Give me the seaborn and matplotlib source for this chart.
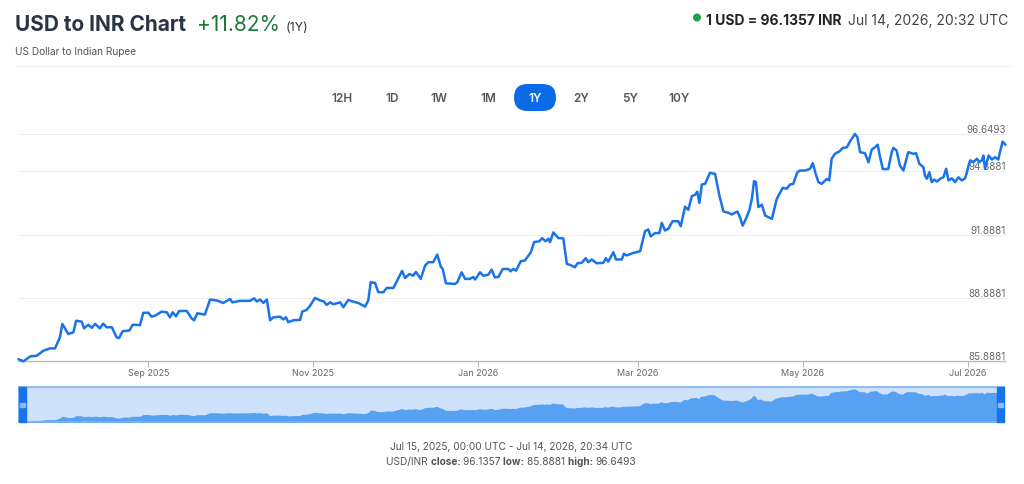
import numpy as np
import pandas as pd
import seaborn as sns
import matplotlib.pyplot as plt
import matplotlib.transforms as mtransforms
from matplotlib.patches import FancyBboxPatch, Rectangle, Circle

# USD/INR, 1Y window
start = pd.Timestamp('2025-07-15 00:00')
end = pd.Timestamp('2026-07-14 20:34')

# days since start
days = [0, 1.8, 4.3, 6.7, 9.2, 11.6, 13.5, 15.3, 16.2, 18.4, 20.3, 21.3, 23.4, 24.2,
        25.8, 27.1, 28.3, 30.1, 31.3, 32.6, 34.5, 36.3, 37.2, 38.5, 41.0, 42.2, 44.9,
        46.1, 48.0, 49.2, 50.5, 52.9, 54.8, 56.0, 57.0, 58.2, 59.4, 62.2, 64.0, 64.9,
        66.1, 68.9, 70.8, 73.3, 75.7, 78.2, 79.0, 81.9, 85.6, 87.1, 88.1, 89.3, 90.5,
        91.8, 93.0, 94.2, 96.7, 97.9, 98.9, 99.7, 101.6, 104.1, 104.9, 106.5, 107.8,
        109.6, 111.5, 112.9, 113.9, 115.2, 116.4, 118.9, 120.1, 121.9, 123.8, 125.6,
        128.1, 129.3, 130.2, 131.8, 133.0, 134.9, 136.1, 138.6, 140.4, 141.8, 142.9,
        144.5, 145.9, 146.9, 148.7, 150.3, 151.5, 153.3, 154.8, 156.1, 156.8, 158.0,
        161.4, 162.2, 163.8, 165.1, 166.9, 168.1, 168.8, 170.6, 171.8, 173.7, 174.9,
        176.1, 177.4, 179.0, 181.1, 181.9, 182.9, 183.9, 185.7, 187.2, 189.4, 190.6,
        192.5, 193.6, 194.8, 195.9, 196.5, 197.7, 199.6, 201.4, 202.7, 203.9, 205.7,
        206.6, 208.2, 209.7, 210.6, 211.9, 213.7, 216.2, 217.1, 218.0, 219.9, 220.9,
        223.0, 223.8, 224.8, 227.3, 229.8, 231.6, 232.8, 233.7, 235.3, 236.9, 237.8,
        239.0, 240.2, 241.8, 243.9, 244.8, 246.4, 247.6, 248.9, 250.1, 250.9, 251.7,
        252.6, 253.8, 255.6, 257.5, 259.1, 260.6, 262.4, 263.7, 265.7, 266.7, 267.7,
        269.0, 270.2, 271.1, 271.9, 272.6, 273.5, 274.8, 276.0, 278.5, 280.3, 282.5,
        284.0, 285.2, 286.4, 287.9, 288.9, 290.8, 292.6, 293.6, 294.7, 295.7, 296.9,
        298.8, 299.7, 300.6, 301.8, 303.4, 304.7, 306.2, 307.6, 309.2, 310.1, 311.1,
        312.9, 314.2, 315.4, 316.6, 317.6, 318.5, 319.5, 321.5, 322.8, 323.4, 324.6,
        325.8, 327.1, 328.1, 328.9, 330.8, 331.8, 333.0, 334.5, 335.1, 335.8, 336.7,
        337.6, 338.5, 339.5, 340.7, 341.9, 342.9, 343.8, 345.0, 346.2, 347.5, 348.7,
        349.9, 350.6, 351.2, 351.8, 353.0, 354.3, 355.2, 356.1, 356.7, 357.3, 358.6,
        359.8, 361.0, 362.2, 362.8, 363.8, 364.857]

rates = [85.99, 85.8881, 86.12, 86.15, 86.39, 86.50, 86.50, 87.02, 87.66, 87.18, 87.26,
         87.81, 87.76, 87.45, 87.62, 87.47, 87.66, 87.45, 87.67, 87.50, 87.50, 87.02,
         86.99, 87.31, 87.35, 87.62, 87.60, 88.18, 88.19, 88.00, 88.05, 88.24, 88.21,
         87.97, 88.21, 88.02, 88.27, 88.27, 87.92, 87.83, 88.16, 88.10, 88.81, 88.77,
         88.65, 88.84, 88.68, 88.75, 88.75, 88.87, 88.72, 88.81, 88.65, 88.81, 87.83,
         87.97, 88.00, 87.87, 87.97, 87.74, 87.83, 87.85, 88.24, 88.32, 88.52, 88.89,
         88.77, 88.72, 88.56, 88.68, 88.59, 88.68, 88.45, 88.79, 88.71, 88.65, 88.48,
         88.77, 89.63, 89.60, 89.16, 89.16, 89.36, 89.36, 89.82, 90.17, 89.83, 90.02,
         89.94, 90.12, 89.79, 90.42, 90.58, 90.58, 90.94, 90.37, 90.26, 89.58, 89.55,
         89.63, 90.10, 89.79, 89.79, 89.88, 89.76, 90.10, 89.94, 89.99, 90.23, 89.86,
         89.88, 90.26, 90.26, 90.15, 90.26, 90.18, 90.63, 90.66, 91.05, 91.53, 91.57,
         91.72, 91.57, 91.69, 91.53, 91.99, 91.72, 91.71, 90.50, 90.45, 90.34, 90.53,
         90.55, 90.77, 90.58, 90.71, 90.53, 90.55, 90.77, 90.61, 91.05, 90.71, 90.71,
         90.98, 90.90, 91.02, 91.10, 92.05, 92.13, 91.80, 91.96, 91.96, 92.44, 92.08,
         92.16, 92.52, 92.52, 92.28, 93.21, 93.06, 93.71, 93.77, 93.92, 93.39, 94.26,
         94.29, 94.81, 94.76, 93.73, 92.98, 92.92, 92.84, 92.98, 92.71, 92.31, 92.66,
         93.06, 93.58, 94.42, 94.37, 93.19, 93.30, 92.79, 92.63, 93.58, 94.10, 94.06,
         94.26, 94.29, 94.84, 94.92, 94.92, 95.00, 95.27, 94.76, 94.37, 94.29, 94.52,
         94.45, 95.48, 95.71, 95.82, 95.99, 96.02, 96.34, 96.6493, 96.50, 95.79, 95.74,
         95.31, 95.91, 96.02, 96.14, 95.55, 94.99, 94.99, 95.79, 95.99, 95.87, 95.16,
         94.92, 95.40, 95.79, 95.71, 95.74, 95.24, 95.08, 94.68, 94.53, 94.84, 94.37,
         94.49, 94.40, 94.53, 94.60, 95.00, 94.45, 94.55, 94.37, 94.60, 94.45, 94.55,
         94.84, 95.16, 95.40, 95.32, 95.48, 95.32, 95.40, 95.63, 95.00, 95.63, 95.44,
         95.55, 95.44, 95.79, 96.29, 96.1357]

ytick_vals = [85.8881, 88.8881, 91.8881, 94.8881, 96.6493]
xtick_dates = ['2025-09-01', '2025-11-01', '2026-01-01', '2026-03-01', '2026-05-01', '2026-07-01']
xtick_labels = ['Sep 2025', 'Nov 2025', 'Jan 2026', 'Mar 2026', 'May 2026', 'Jul 2026']
ranges = ['12H', '1D', '1W', '1M', '1Y', '2Y', '5Y', '10Y']
range_x = [342, 392, 439, 488, 535, 581, 630, 679]
active_range = '1Y'

df = pd.DataFrame({'date': start + pd.to_timedelta(days, unit='D'), 'rate': rates})

sns.set_theme(style='white')
plt.rcParams['font.family'] = ['Inter', 'DejaVu Sans']

W, H = 1024, 485
fig = plt.figure(figsize=(W / 100, H / 100), dpi=100)
px = mtransforms.IdentityTransform()

LINE = '#1a73e8'
GREY = '#666666'
DARK = '#2b3446'

# main chart
ax = fig.add_axes([18.5 / W, (H - 362.3) / H, 987 / W, (362.3 - 135) / H])
for v in ytick_vals[1:]:
    ax.axhline(v, color='#eeeeee', lw=0.8, zorder=0)
sns.lineplot(data=df, x='date', y='rate', ax=ax, color=LINE, linewidth=1.8,
             clip_on=False, zorder=3, solid_joinstyle='round', solid_capstyle='round')
ax.set_xlim(start, end)
ax.set_ylim(ytick_vals[0], ytick_vals[-1])
ax.set_xlabel('')
ax.set_ylabel('')
for s in ['top', 'right', 'left']:
    ax.spines[s].set_visible(False)
ax.spines['bottom'].set_color('#bbbbbb')
ax.spines['bottom'].set_linewidth(1)
ax.set_yticks([])
ax.set_xticks(pd.to_datetime(xtick_dates))
ax.set_xticklabels(xtick_labels, fontsize=6.5, color=GREY)
ax.tick_params(axis='x', length=4, width=0.8, color='#bbbbbb', pad=1, bottom=True)
for v in ytick_vals:
    ax.text(1.0, v, f'{v:.4f}', transform=ax.get_yaxis_transform(), ha='right',
            va='bottom', fontsize=7, color=GREY, zorder=1)

# navigator
nav = fig.add_axes([18.5 / W, (H - 423.3) / H, 985.5 / W, 35 / H])
nav.set_facecolor('#cfe2fb')
nav.fill_between(df['date'], df['rate'], 85.0, color='#57a0f2', lw=0)
nav.set_xlim(start, end)
nav.set_ylim(85.62, 97.2)
nav.set_xticks([])
nav.set_yticks([])
for s in nav.spines.values():
    s.set_color('#7db3f3')
    s.set_linewidth(1.2)
for hx in [0.0, 1.0 - 7.5 / 985.5]:
    nav.add_patch(Rectangle((hx, 0), 7.5 / 985.5, 1, transform=nav.transAxes,
                            color='#1673ec', zorder=5, clip_on=False))
    nav.add_patch(Rectangle((hx + 1.5 / 985.5, 0.44), 4.5 / 985.5, 0.12,
                            transform=nav.transAxes, color='#8cbaf5', zorder=6,
                            clip_on=False))

# header
fig.text(15, H - 31, 'USD to INR Chart', transform=px, fontsize=15,
         fontweight='bold', color=DARK)
fig.text(197, H - 31, '+11.82%', transform=px, fontsize=15, color='#1f7a3c')
fig.text(286, H - 31, '(1Y)', transform=px, fontsize=9, color='#333333')
fig.text(15, H - 55, 'US Dollar to Indian Rupee', transform=px, fontsize=7.3,
         color='#555555')
fig.add_artist(plt.Line2D([15, 1010], [H - 66.5, H - 66.5], transform=px,
                          color='#f0f0f0', lw=1))

fig.add_artist(Circle((697, H - 18.5), 3.3, transform=px, color='#16a34a'))
fig.text(1008, H - 25.5, 'Jul 14, 2026, 20:32 UTC', transform=px, ha='right',
         fontsize=10, color='#444444')
fig.text(841, H - 25.5, '1 USD = 96.1357 INR', transform=px, ha='right',
         fontsize=10, fontweight='bold', color='#222222')

# range buttons
fig.add_artist(FancyBboxPatch((514, H - 112), 42, 27, transform=px,
                              boxstyle='round,pad=0,rounding_size=13.5',
                              facecolor='#0b6be6', edgecolor='none'))
for lab, bx in zip(ranges, range_x):
    on = lab == active_range
    fig.text(bx, H - 99, lab, transform=px, ha='center', va='center',
             fontsize=8.5, fontweight='semibold',
             color='white' if on else '#555555')

# footer
fig.text(511, H - 447, 'Jul 15, 2025, 00:00 UTC - Jul 14, 2026, 20:34 UTC',
         transform=px, ha='center', va='center', fontsize=7.3, color='#555555')

parts = [('USD/INR ', 'normal'), ('close: ', 'bold'), ('96.1357 ', 'normal'),
         ('low: ', 'bold'), ('85.8881 ', 'normal'), ('high: ', 'bold'),
         ('96.6493', 'normal')]
renderer = fig.canvas.get_renderer()
texts = []
widths = []
for s, w in parts:
    t = fig.text(0, H - 462, s, transform=px, va='center', fontsize=7.3,
                 fontweight=w, color='#555555')
    widths.append(t.get_window_extent(renderer).width)
    texts.append(t)
x0 = 511 - sum(widths) / 2
for t, wd in zip(texts, widths):
    t.set_x(x0)
    x0 += wd

fig.savefig('out.png', dpi=100)
